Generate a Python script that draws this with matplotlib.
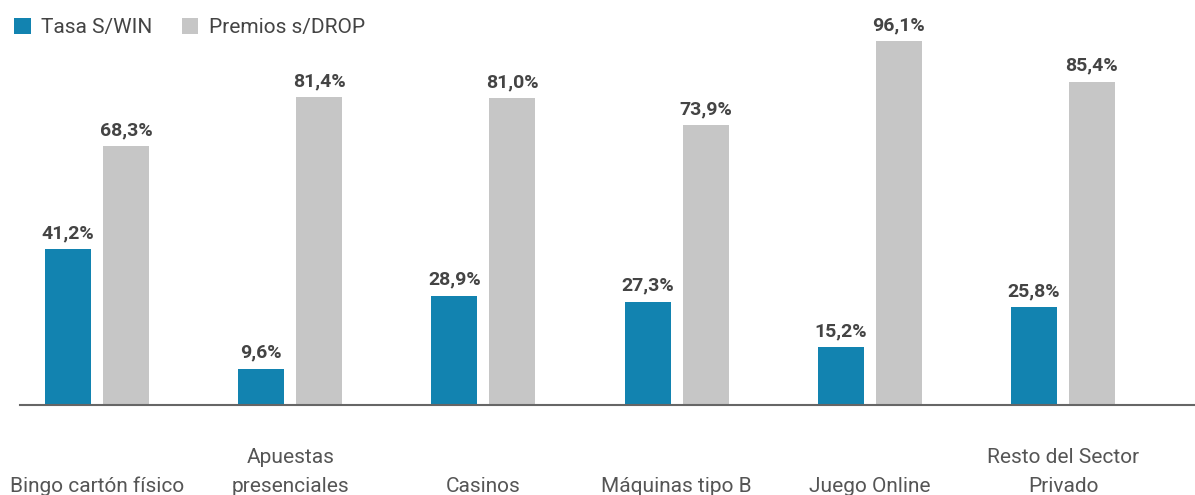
import matplotlib
matplotlib.use("Agg")
import matplotlib.pyplot as plt
from matplotlib.transforms import blended_transform_factory
import numpy as np

# Datos
categorias = ["Bingo cartón físico", "Apuestas\npresenciales", "Casinos",
              "Máquinas tipo B", "Juego Online", "Resto del Sector\nPrivado"]
tasa_win = [41.2, 9.6, 28.9, 27.3, 15.2, 25.8]
premios_drop = [68.3, 81.4, 81.0, 73.9, 96.1, 85.4]
series = ["Tasa S/WIN", "Premios s/DROP"]

AZUL = "#1283b0"
GRIS = "#c6c6c6"
TEXTO = "#444444"

plt.rcParams['font.family'] = ['Roboto', 'DejaVu Sans']

fig = plt.figure(figsize=(11.95, 4.95), dpi=100)
# ejes: de x=20px al borde derecho, base en y=405px
ax = fig.add_axes([20 / 1195, 90 / 495, 1175 / 1195, 405 / 495])

x = np.arange(len(categorias))
ancho = 0.238
sep = 0.15
b1 = ax.bar(x - sep, tasa_win, ancho, color=AZUL, label=series[0])
b2 = ax.bar(x + sep, premios_drop, ancho, color=GRIS, label=series[1])

fmt = lambda v: f"{v:.1f}%".replace(".", ",")
for barras in (b1, b2):
    ax.bar_label(barras, labels=[fmt(v) for v in barras.datavalues], padding=5,
                 fontsize=14, fontweight="bold", color=TEXTO)

pitch = 193.2
x0 = (97 - 20) / pitch
ax.set_xlim(-x0, -x0 + 1175 / pitch)
ax.set_ylim(0, 405 / 3.785)

for s in ("top", "left", "right"):
    ax.spines[s].set_visible(False)
ax.spines["bottom"].set_color("#666666")
ax.spines["bottom"].set_linewidth(1.5)
ax.set_yticks([])
ax.set_xticks([])

# etiquetas de categoría
trans = blended_transform_factory(ax.transData, fig.transFigure)
for xi, cat in zip(x, categorias):
    ax.text(xi, -1 / 495, cat, transform=trans, ha="center", va="bottom",
            fontsize=15, color="#555555", linespacing=1.68)

fig.legend(handles=[b1, b2], loc="upper left", bbox_to_anchor=(14 / 1195, 1 - 18 / 495),
           ncol=2, frameon=False, fontsize=15, labelcolor=TEXTO,
           handlelength=0.8, handleheight=0.8, handletextpad=0.5,
           columnspacing=1.4, borderaxespad=0, borderpad=0)

fig.savefig("out.png", dpi=100)
